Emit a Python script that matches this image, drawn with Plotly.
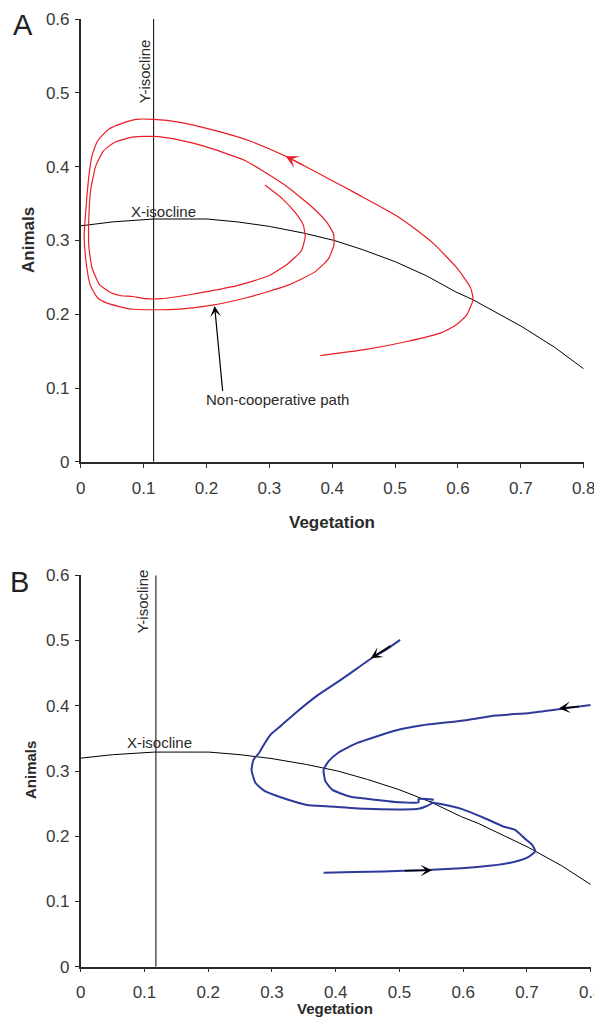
import plotly.graph_objects as go

# ---------------- data ----------------
# X-isocline (same curve in both panels)
iso_veg = [0.0, 0.05, 0.1155, 0.201, 0.25, 0.30, 0.354, 0.403, 0.45, 0.5006, 0.55, 0.597, 0.623, 0.66, 0.702, 0.754, 0.80]
iso_anim = [0.3197, 0.325, 0.329, 0.329, 0.325, 0.319, 0.310, 0.300, 0.287, 0.271, 0.252, 0.230, 0.220, 0.203, 0.183, 0.155, 0.126]

# Y-isocline positions (vegetation value)
yiso_a = 0.116
yiso_b = 0.118

# Panel A: non-cooperative path (red spiral)
a_veg = [0.381, 0.452, 0.519, 0.574, 0.598, 0.614, 0.624, 0.620, 0.598, 0.562, 0.531, 0.501, 0.446, 0.391,
         0.326, 0.268, 0.213, 0.158, 0.116, 0.088, 0.067, 0.045, 0.027, 0.018, 0.013, 0.009, 0.0055, 0.009,
         0.015, 0.027, 0.042, 0.079, 0.116, 0.158, 0.207, 0.262, 0.329, 0.372, 0.394, 0.403, 0.402, 0.391,
         0.367, 0.323, 0.262, 0.195, 0.152, 0.116, 0.082, 0.054, 0.036, 0.024, 0.016, 0.013, 0.013, 0.018,
         0.030, 0.048, 0.064, 0.082, 0.103, 0.128, 0.177, 0.250, 0.299, 0.329, 0.351, 0.357, 0.354, 0.342,
         0.320, 0.293]
a_anim = [0.144, 0.152, 0.163, 0.175, 0.186, 0.199, 0.220, 0.236, 0.263, 0.295, 0.316, 0.334, 0.360, 0.385,
          0.414, 0.435, 0.449, 0.460, 0.464, 0.464, 0.459, 0.451, 0.435, 0.415, 0.387, 0.350, 0.305, 0.268,
          0.240, 0.222, 0.215, 0.207, 0.206, 0.207, 0.212, 0.222, 0.239, 0.257, 0.275, 0.295, 0.309, 0.325,
          0.346, 0.376, 0.408, 0.428, 0.437, 0.441, 0.440, 0.433, 0.421, 0.401, 0.369, 0.332, 0.291, 0.263,
          0.240, 0.229, 0.225, 0.224, 0.221, 0.221, 0.227, 0.239, 0.252, 0.268, 0.286, 0.305, 0.321, 0.337,
          0.357, 0.375]

# Panel B: three trajectories (blue)
b1_veg = [0.501, 0.476, 0.458, 0.416, 0.373, 0.337, 0.316, 0.298, 0.289, 0.280, 0.271, 0.268, 0.274, 0.289,
          0.316, 0.355, 0.386, 0.446, 0.506, 0.530, 0.542, 0.551, 0.548]
b1_anim = [0.501, 0.484, 0.474, 0.445, 0.417, 0.389, 0.371, 0.356, 0.343, 0.328, 0.317, 0.302, 0.282, 0.269,
           0.259, 0.248, 0.246, 0.242, 0.241, 0.242, 0.246, 0.251, 0.253]
b2_veg = [0.800, 0.760, 0.705, 0.651, 0.597, 0.536, 0.494, 0.464, 0.434, 0.404, 0.389, 0.381, 0.384, 0.395,
          0.422, 0.452, 0.500, 0.530, 0.530, 0.554]
b2_anim = [0.401, 0.396, 0.389, 0.385, 0.377, 0.370, 0.362, 0.353, 0.343, 0.328, 0.315, 0.302, 0.284, 0.271,
           0.261, 0.257, 0.252, 0.252, 0.257, 0.256]
b3_veg = [0.381, 0.428, 0.476, 0.536, 0.597, 0.645, 0.681, 0.702, 0.713, 0.708, 0.696, 0.681, 0.663, 0.633,
          0.597, 0.567, 0.548]
b3_anim = [0.144, 0.145, 0.146, 0.148, 0.151, 0.155, 0.161, 0.168, 0.177, 0.187, 0.197, 0.210, 0.215, 0.228,
           0.242, 0.249, 0.252]

# arrows: (head_x, head_y, tail_x, tail_y)
arrow_a_red = (0.326, 0.414, 0.356, 0.401)
arrow_a_label = (0.213, 0.211, 0.226, 0.094)
arrows_b = [(0.455, 0.473, 0.488, 0.493),
            (0.750, 0.396, 0.784, 0.399),
            (0.551, 0.148, 0.506, 0.147)]

x_ticks = [0, 0.1, 0.2, 0.3, 0.4, 0.5, 0.6, 0.7, 0.8]
y_ticks = [0, 0.1, 0.2, 0.3, 0.4, 0.5, 0.6]
tick_text_x = ["0", "0.1", "0.2", "0.3", "0.4", "0.5", "0.6", "0.7", "0.8"]
tick_text_y = ["0", "0.1", "0.2", "0.3", "0.4", "0.5", "0.6"]

# ---------------- figure ----------------
RED = "#ec1c24"
BLUE = "#2e3a9a"
FONT = "Liberation Sans, Arial, sans-serif"
PAGE_MARGIN = 8          # default body margin of the html page
W, H = 602 - PAGE_MARGIN, 1026 - 2 * PAGE_MARGIN

fig = go.Figure()

# Panel A
fig.add_trace(go.Scatter(x=iso_veg, y=iso_anim, mode="lines", line=dict(color="black", width=1),
                         xaxis="x", yaxis="y", hoverinfo="skip"))
fig.add_trace(go.Scatter(x=[yiso_a, yiso_a], y=[0, 0.6], mode="lines", line=dict(color="black", width=1),
                         xaxis="x", yaxis="y", hoverinfo="skip"))
fig.add_trace(go.Scatter(x=a_veg, y=a_anim, mode="lines",
                         line=dict(color=RED, width=1.2, shape="spline", smoothing=0.5),
                         xaxis="x", yaxis="y"))

# Panel B
fig.add_trace(go.Scatter(x=iso_veg, y=iso_anim, mode="lines", line=dict(color="black", width=1),
                         xaxis="x2", yaxis="y2", hoverinfo="skip"))
fig.add_trace(go.Scatter(x=[yiso_b, yiso_b], y=[0, 0.6], mode="lines", line=dict(color="black", width=1),
                         xaxis="x2", yaxis="y2", hoverinfo="skip"))
for xs, ys in [(b1_veg, b1_anim), (b2_veg, b2_anim), (b3_veg, b3_anim)]:
    fig.add_trace(go.Scatter(x=xs, y=ys, mode="lines",
                             line=dict(color=BLUE, width=2, shape="spline", smoothing=0.5),
                             xaxis="x2", yaxis="y2"))


def px_x(p):
    return (p - PAGE_MARGIN) / W


def px_y(p):
    return 1 - (p - PAGE_MARGIN) / H


axis_common = dict(showline=True, linecolor="#2a2a2a", linewidth=1.5, ticks="outside", ticklen=4,
                   tickwidth=1.2, tickcolor="#2a2a2a", showgrid=False, zeroline=False,
                   ticklabeloverflow="allow",
                   tickfont=dict(family=FONT, size=17, color="#3a3a3a"), fixedrange=True)

fig.update_layout(
    width=W, height=H, margin=dict(l=0, r=0, t=0, b=0, autoexpand=False),
    paper_bgcolor="white", plot_bgcolor="white", showlegend=False,
    xaxis=dict(domain=[px_x(80.7), px_x(583.7)], range=[0, 0.8], tickvals=x_ticks, ticktext=tick_text_x,
               anchor="y", ticklabelstandoff=6, **axis_common),
    yaxis=dict(domain=[px_y(461.8), px_y(19)], range=[0, 0.6], tickvals=y_ticks, ticktext=tick_text_y,
               anchor="x", ticklabelstandoff=2, **axis_common),
    xaxis2=dict(domain=[px_x(80.7), px_x(590.7)], range=[0, 0.8], tickvals=x_ticks, ticktext=tick_text_x,
                anchor="y2", ticklabelstandoff=5, **axis_common),
    yaxis2=dict(domain=[px_y(966.7), px_y(575.3)], range=[0, 0.6], tickvals=y_ticks, ticktext=tick_text_y,
                anchor="x2", ticklabelstandoff=2, **axis_common),
)

ann = []
# panel letters
ann.append(dict(text="A", x=px_x(22.5), y=px_y(24.5), xref="paper", yref="paper", showarrow=False,
                font=dict(family=FONT, size=29, color="#222"), xanchor="center", yanchor="middle"))
ann.append(dict(text="B", x=px_x(19.5), y=px_y(581.5), xref="paper", yref="paper", showarrow=False,
                font=dict(family=FONT, size=29, color="#222"), xanchor="center", yanchor="middle"))
# axis titles
ann.append(dict(text="<b>Animals</b>", x=px_x(29), y=px_y(240), xref="paper", yref="paper", showarrow=False,
                textangle=-90, font=dict(family=FONT, size=17, color="#2a2a2a"), xanchor="center", yanchor="middle"))
ann.append(dict(text="<b>Vegetation</b>", x=px_x(332), y=px_y(522), xref="paper", yref="paper", showarrow=False,
                font=dict(family=FONT, size=17, color="#2a2a2a"), xanchor="center", yanchor="middle"))
ann.append(dict(text="<b>Animals</b>", x=px_x(30), y=px_y(770), xref="paper", yref="paper", showarrow=False,
                textangle=-90, font=dict(family=FONT, size=15, color="#2a2a2a"), xanchor="center", yanchor="middle"))
ann.append(dict(text="<b>Vegetation</b>", x=px_x(335), y=px_y(1008), xref="paper", yref="paper", showarrow=False,
                font=dict(family=FONT, size=15, color="#2a2a2a"), xanchor="center", yanchor="middle"))
# isocline labels
LBL = dict(family=FONT, size=15, color="#2a2a2a")
ann.append(dict(text="X-isocline", x=0.131, y=0.339, xref="x", yref="y", showarrow=False, font=LBL,
                xanchor="center", yanchor="middle"))
ann.append(dict(text="Y-isocline", x=0.102, y=0.529, xref="x", yref="y", showarrow=False, font=LBL,
                textangle=-90, xanchor="center", yanchor="middle"))
ann.append(dict(text="X-isocline", x=0.124, y=0.343, xref="x2", yref="y2", showarrow=False, font=LBL,
                xanchor="center", yanchor="middle"))
ann.append(dict(text="Y-isocline", x=0.096, y=0.56, xref="x2", yref="y2", showarrow=False, font=LBL,
                textangle=-90, xanchor="center", yanchor="middle"))
ann.append(dict(text="Non-cooperative path", x=0.196, y=0.085, xref="x", yref="y", showarrow=False, font=LBL,
                xanchor="left", yanchor="middle"))
# arrows
hx, hy, tx, ty = arrow_a_red
ann.append(dict(text="", x=hx, y=hy, ax=tx, ay=ty, xref="x", yref="y", axref="x", ayref="y",
                showarrow=True, arrowhead=3, arrowsize=1.8, arrowwidth=1.2, arrowcolor=RED, standoff=0))
hx, hy, tx, ty = arrow_a_label
ann.append(dict(text="", x=hx, y=hy, ax=tx, ay=ty, xref="x", yref="y", axref="x", ayref="y",
                showarrow=True, arrowhead=3, arrowsize=1.5, arrowwidth=1.2, arrowcolor="black", standoff=0))
for hx, hy, tx, ty in arrows_b:
    ann.append(dict(text="", x=hx, y=hy, ax=tx, ay=ty, xref="x2", yref="y2", axref="x2", ayref="y2",
                    showarrow=True, arrowhead=3, arrowsize=1.2, arrowwidth=1.6, arrowcolor="black", standoff=0))

fig.update_layout(annotations=ann)
fig.write_html("out.html")
